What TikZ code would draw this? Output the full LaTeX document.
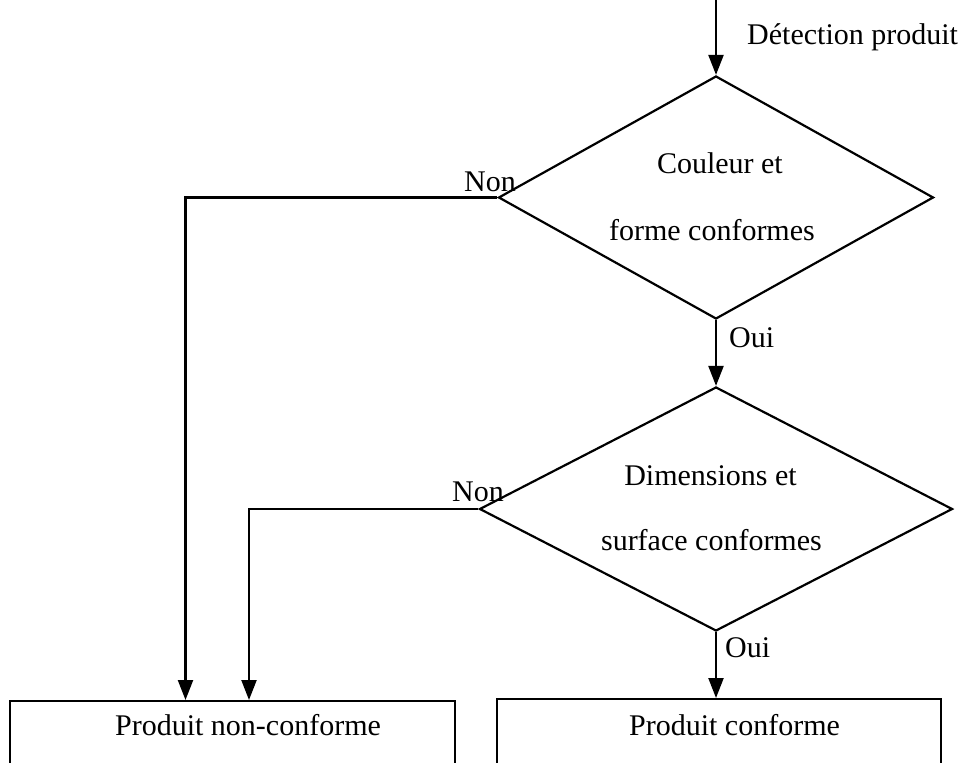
\documentclass[tikz,border=0pt]{standalone}
\usepackage{fontspec}
\setmainfont{Liberation Serif}
\usetikzlibrary{shapes.geometric,arrows.meta}

\tikzset{
  decision/.style={draw, line width=2.2pt, diamond, inner sep=0pt, minimum width=#1},
  outcome/.style={draw, line width=1.5pt, rectangle, inner sep=0pt, anchor=north},
  flow/.style={line width=2.2pt, -{Triangle[length=20pt,width=15pt]}},
  txt/.style={inner sep=0pt, font=\fontsize{30}{36}\selectfont},
}

\begin{document}
\begin{tikzpicture}[x=1pt, y=-1pt]
  \clip (0,0) rectangle (973,762);
  \fill[white] (0,0) rectangle (973,762);

  % decision diamonds
  \node[decision=435pt, minimum height=243pt] (d1) at (716,197.5) {};
  \node[decision=473pt, minimum height=244pt] (d2) at (716,509) {};

  % outcome boxes (bottom edges run off the page)
  \node[outcome, minimum width=445pt, minimum height=110pt] (nc) at (232.5,700) {};
  \node[outcome, minimum width=444pt, minimum height=110pt] (pc) at (719,698) {};

  % entry point
  \coordinate (start) at (716,0);

  % texts
  \node[txt, anchor=base west] (det) at (747,45) {Détection produit};
  \node[txt, anchor=base east] (q1a) at (783,174) {Couleur et};
  \node[txt, anchor=base east] (q1b) at (815,240) {forme conformes};
  \node[txt, anchor=base east] (q2a) at (797,485) {Dimensions et};
  \node[txt, anchor=base east] (q2b) at (822,550) {surface conformes};
  \node[txt, anchor=base west] (oui1) at (729,347) {Oui};
  \node[txt, anchor=base west] (oui2) at (725,657) {Oui};
  \node[txt, anchor=base west] (non1) at (464,191) {Non};
  \node[txt, anchor=base west] (non2) at (452,501) {Non};
  \node[txt, anchor=base] (ncl) at (248,735) {Produit non-conforme};
  \node[txt, anchor=base] (pcl) at (734.5,735) {Produit conforme};

  % connectors
  \draw[flow] (start) -- (d1.north);
  \draw[flow] (d1.south) -- (d2.north);
  \draw[flow] (d2.south) -- (d2.south |- pc.north);
  \draw[flow] (d1.west) -| ([xshift=-47pt]nc.north);
  \draw[flow] (d2.west) -| ([xshift=16.5pt]nc.north);
\end{tikzpicture}
\end{document}
